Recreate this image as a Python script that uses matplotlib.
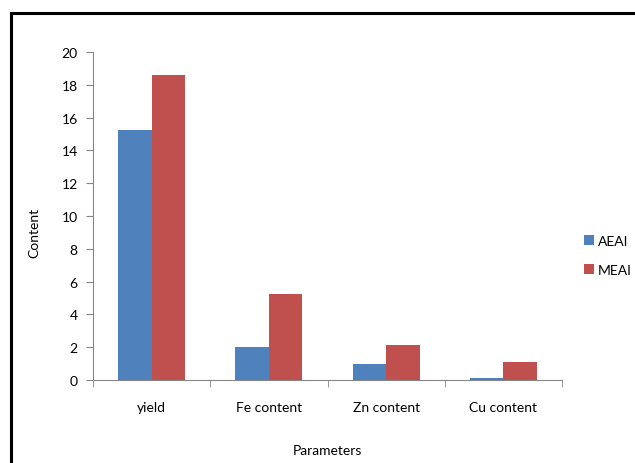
import numpy as np
import matplotlib.pyplot as plt
from matplotlib.patches import Rectangle

categories = ["yield", "Fe content", "Zn content", "Cu content"]
aeai = [15.25, 2.02, 0.98, 0.12]
meai = [18.6, 5.25, 2.12, 1.08]
yticks = [0, 2, 4, 6, 8, 10, 12, 14, 16, 18, 20]

plt.rcParams['font.family'] = ['Lato', 'DejaVu Sans']

fig = plt.figure(figsize=(6.35, 4.64), dpi=100)
ax = fig.add_axes([0.1465, 0.179, 0.7385, 0.707])

# outer frame, running off the right and bottom edges
fig.patches.append(Rectangle((11 / 635, -0.05), 1.0, 1 - 14 / 464 + 0.05,
                             transform=fig.transFigure, fill=False,
                             edgecolor='black', linewidth=2.2))

x = np.arange(len(categories))
w = 0.285
ax.bar(x - w / 2, aeai, w, color='#4F81BD', label='AEAI')
ax.bar(x + w / 2, meai, w, color='#C0504D', label='MEAI')

ax.set_xlim(-0.5, len(categories) - 0.5)
ax.set_ylim(0, 20)
ax.set_yticks(yticks)
ax.set_xticks(x)
ax.set_xticklabels(categories, fontsize=10)
ax.set_xticks(np.arange(len(categories) + 1) - 0.5, minor=True)
ax.tick_params(axis='x', which='major', length=0, pad=15)
ax.tick_params(axis='x', which='minor', length=5, color='#868686')
ax.tick_params(axis='y', length=5, color='#868686', labelsize=10, pad=6)

for s in ['top', 'right']:
    ax.spines[s].set_visible(False)
for s in ['left', 'bottom']:
    ax.spines[s].set_color('#868686')

ax.set_xlabel("Parameters", fontsize=10)
ax.xaxis.set_label_coords(0.5, -0.195)
ax.set_ylabel("Content", fontsize=10)
ax.yaxis.set_label_coords(-0.112, 0.45)

ax.legend(loc='center left', bbox_to_anchor=(1.02, 0.38), frameon=False,
          fontsize=10, handlelength=0.7, handleheight=0.7, handletextpad=0.3,
          labelspacing=1.2)

fig.savefig("out.png", dpi=100)
